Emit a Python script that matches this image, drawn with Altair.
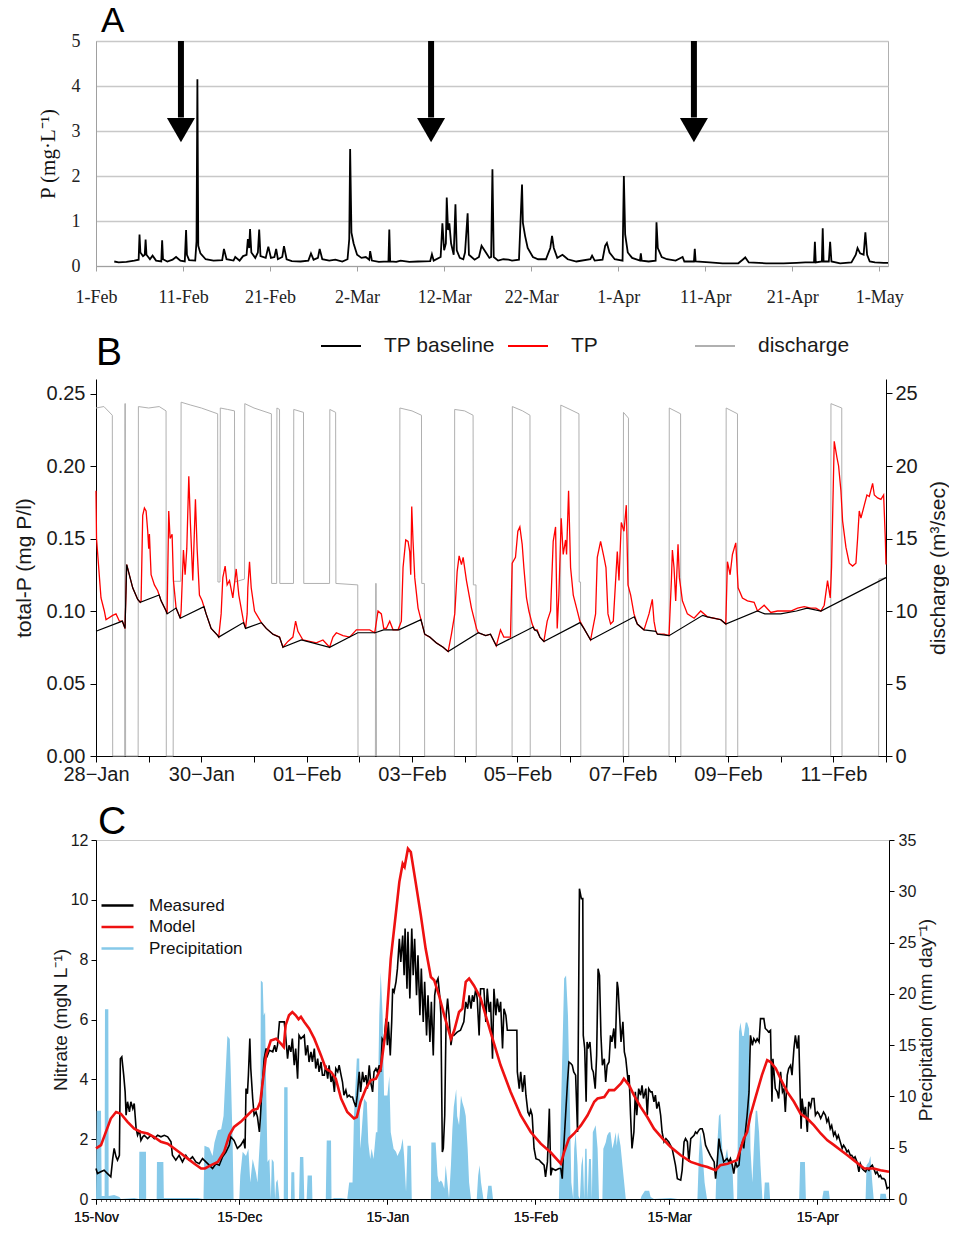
import json
import altair as alt
import pandas as pd

SANS = "Liberation Sans"
SERIF = "Liberation Serif"

# ======================= Panel A : P (mg/L), day 0 = 1-Feb =======================
a_domain = [0, 91]
a_tick_days = [0, 10, 20, 30, 40, 50, 60, 70, 80, 90]
a_tick_labels = ["1-Feb", "11-Feb", "21-Feb", "2-Mar", "12-Mar", "22-Mar", "1-Apr", "11-Apr", "21-Apr", "1-May"]
a_y_ticks = [0, 1, 2, 3, 4, 5]
a_series = [
    (2.1, 0.10), (2.6, 0.08), (3.5, 0.09), (4.4, 0.12), (4.9, 0.14), (5.0, 0.70), (5.1, 0.30), (5.4, 0.22),
    (5.6, 0.25), (5.7, 0.59), (5.8, 0.25), (6.2, 0.15), (6.5, 0.23), (6.9, 0.12), (7.5, 0.10), (7.6, 0.57),
    (7.7, 0.15), (8.2, 0.10), (8.8, 0.14), (9.2, 0.20), (9.7, 0.12), (10.2, 0.10), (10.35, 0.80), (10.45, 0.25),
    (10.7, 0.13), (11.4, 0.12), (11.55, 0.55), (11.65, 4.15), (11.75, 0.45), (12.0, 0.28), (12.6, 0.15),
    (13.5, 0.12), (14.5, 0.13), (14.7, 0.38), (15.0, 0.15), (15.8, 0.12), (16.0, 0.20), (16.5, 0.12),
    (16.9, 0.22), (17.3, 0.25), (17.45, 0.60), (17.6, 0.40), (17.7, 0.82), (17.85, 0.30), (18.3, 0.18),
    (18.6, 0.30), (18.75, 0.81), (18.9, 0.22), (19.5, 0.18), (19.8, 0.43), (20.1, 0.18), (20.5, 0.20),
    (20.7, 0.38), (20.9, 0.15), (21.4, 0.20), (21.6, 0.44), (21.9, 0.15), (22.5, 0.11), (23.5, 0.10),
    (24.4, 0.12), (24.7, 0.28), (25.0, 0.14), (25.5, 0.18), (25.7, 0.38), (26.0, 0.15), (26.8, 0.12),
    (27.5, 0.14), (28.3, 0.10), (28.9, 0.15), (29.1, 0.60), (29.2, 2.60), (29.35, 0.74), (29.6, 0.50),
    (30.0, 0.25), (30.5, 0.18), (31.0, 0.20), (31.4, 0.14), (31.5, 0.33), (31.7, 0.12), (32.5, 0.09),
    (33.6, 0.10), (33.7, 0.81), (33.8, 0.10), (34.5, 0.09), (35.0, 0.12), (36.0, 0.09), (37.0, 0.10),
    (38.4, 0.11), (38.6, 0.26), (38.8, 0.12), (39.6, 0.20), (39.8, 0.95), (40.0, 0.35), (40.2, 0.50),
    (40.3, 1.52), (40.45, 0.80), (40.6, 0.95), (40.8, 0.50), (41.1, 0.25), (41.3, 1.37), (41.45, 0.35),
    (41.8, 0.18), (42.2, 0.15), (42.4, 0.30), (42.7, 1.17), (42.85, 0.25), (43.5, 0.14), (44.0, 0.20),
    (44.3, 0.45), (44.8, 0.30), (45.2, 0.18), (45.4, 0.20), (45.55, 2.15), (45.7, 0.20), (46.2, 0.12),
    (46.8, 0.15), (47.4, 0.14), (47.8, 0.12), (48.6, 0.14), (48.8, 1.10), (48.95, 1.81), (49.05, 0.96),
    (49.3, 0.67), (49.6, 0.40), (50.2, 0.20), (50.8, 0.15), (51.7, 0.15), (52.2, 0.40), (52.4, 0.67),
    (52.6, 0.40), (53.0, 0.18), (53.6, 0.25), (54.2, 0.15), (55.2, 0.10), (56.8, 0.15), (57.0, 0.23),
    (57.3, 0.12), (58.2, 0.14), (58.5, 0.45), (58.7, 0.51), (59.0, 0.30), (59.6, 0.15), (60.5, 0.12),
    (60.65, 2.0), (60.8, 0.70), (61.1, 0.30), (61.6, 0.18), (62.5, 0.12), (62.6, 0.28), (62.7, 0.12),
    (63.5, 0.10), (64.3, 0.12), (64.4, 0.97), (64.55, 0.40), (65.0, 0.20), (65.6, 0.15), (66.6, 0.12),
    (67.4, 0.20), (67.6, 0.10), (68.7, 0.10), (68.8, 0.38), (68.9, 0.10), (70.5, 0.08), (72.0, 0.06),
    (73.8, 0.06), (74.3, 0.14), (74.6, 0.19), (75.0, 0.08), (77.0, 0.06), (79.0, 0.06), (80.5, 0.07),
    (81.5, 0.08), (82.5, 0.08), (82.6, 0.54), (82.7, 0.08), (83.4, 0.10), (83.5, 0.84), (83.6, 0.10),
    (84.2, 0.10), (84.35, 0.54), (84.5, 0.10), (85.5, 0.06), (86.8, 0.08), (87.3, 0.25), (87.5, 0.40),
    (87.8, 0.28), (88.2, 0.25), (88.4, 0.75), (88.6, 0.25), (88.9, 0.10), (89.5, 0.08), (90.5, 0.07),
    (91.0, 0.07),
]
a_arrow_day = [9.76, 38.5, 68.7]
a_arrow_top = [5, 5, 5]
a_arrow_neck = [3.3, 3.3, 3.3]
a_arrow_head = [3.02, 3.02, 3.02]

# ======================= Panel B : t in days since 28-Jan 00:00 =======================
b_domain = [0, 15]
b_tick_days = list(range(16))
b_tick_labels = ["28−Jan", "", "30−Jan", "", "01−Feb", "", "03−Feb", "", "05−Feb", "", "07−Feb", "",
                 "09−Feb", "", "11−Feb", ""]
b_tp_ticks = [0.0, 0.05, 0.10, 0.15, 0.20, 0.25]
b_q_ticks = [0, 5, 10, 15, 20, 25]
b_legend = ["TP baseline", "TP", "discharge"]
b_colors = ["#000000", "#ff0000", "#b0b0b0"]
b_tp = [
    (0.0, 0.183), (0.01, 0.150), (0.095, 0.109), (0.158, 0.100), (0.19, 0.094), (0.317, 0.097), (0.38, 0.098),
    (0.444, 0.093), (0.50, 0.093), (0.551, 0.088), (0.583, 0.132), (0.697, 0.116), (0.792, 0.108), (0.84, 0.106),
    (0.856, 0.107), (0.887, 0.166), (0.919, 0.171), (0.951, 0.169), (0.982, 0.155), (1.001, 0.143),
    (1.014, 0.153), (1.046, 0.125), (1.109, 0.118), (1.172, 0.114), (1.236, 0.107), (1.331, 0.100),
    (1.35, 0.098), (1.381, 0.169), (1.407, 0.150), (1.445, 0.153), (1.47, 0.121), (1.521, 0.102), (1.60, 0.095),
    (1.616, 0.100), (1.66, 0.142), (1.692, 0.125), (1.724, 0.143), (1.762, 0.193), (1.793, 0.160),
    (1.838, 0.121), (1.888, 0.177), (1.92, 0.143), (1.964, 0.111), (2.015, 0.107), (2.091, 0.098),
    (2.186, 0.088), (2.313, 0.083), (2.33, 0.082), (2.376, 0.098), (2.408, 0.123), (2.452, 0.131),
    (2.49, 0.118), (2.535, 0.121), (2.598, 0.109), (2.662, 0.129), (2.712, 0.111), (2.80, 0.093),
    (2.84, 0.088), (2.87, 0.098), (2.883, 0.116), (2.915, 0.134), (2.947, 0.116), (3.01, 0.100),
    (3.14, 0.092), (3.232, 0.088), (3.359, 0.084), (3.485, 0.082), (3.549, 0.075), (3.644, 0.079),
    (3.739, 0.082), (3.79, 0.093), (3.834, 0.086), (3.929, 0.080), (4.056, 0.079), (4.183, 0.078),
    (4.309, 0.080), (4.436, 0.075), (4.499, 0.082), (4.563, 0.085), (4.689, 0.083), (4.816, 0.082),
    (4.943, 0.087), (5.07, 0.087), (5.196, 0.087), (5.292, 0.085), (5.355, 0.100), (5.418, 0.098),
    (5.463, 0.088), (5.513, 0.088), (5.577, 0.093), (5.64, 0.087), (5.735, 0.087), (5.798, 0.093),
    (5.83, 0.130), (5.881, 0.149), (5.925, 0.148), (5.957, 0.141), (5.976, 0.125), (5.995, 0.172),
    (6.02, 0.148), (6.052, 0.123), (6.115, 0.102), (6.17, 0.094), (6.242, 0.084), (6.337, 0.082),
    (6.464, 0.078), (6.591, 0.075), (6.686, 0.072), (6.749, 0.084), (6.812, 0.098), (6.857, 0.127),
    (6.895, 0.138), (6.939, 0.132), (6.971, 0.137), (7.034, 0.121), (7.129, 0.102), (7.224, 0.088),
    (7.26, 0.085), (7.40, 0.083), (7.49, 0.084), (7.60, 0.076), (7.68, 0.087), (7.743, 0.082), (7.87, 0.082),
    (7.902, 0.133), (7.965, 0.137), (8.01, 0.155), (8.048, 0.158), (8.092, 0.146), (8.124, 0.130),
    (8.174, 0.109), (8.219, 0.100), (8.282, 0.091), (8.326, 0.087), (8.377, 0.087), (8.428, 0.082),
    (8.504, 0.079), (8.567, 0.093), (8.631, 0.100), (8.681, 0.148), (8.726, 0.158), (8.757, 0.088),
    (8.789, 0.111), (8.833, 0.164), (8.871, 0.139), (8.916, 0.149), (8.935, 0.139), (8.973, 0.183),
    (9.011, 0.130), (9.062, 0.111), (9.125, 0.102), (9.188, 0.093), (9.264, 0.088), (9.391, 0.080),
    (9.486, 0.098), (9.518, 0.137), (9.581, 0.148), (9.645, 0.137), (9.683, 0.130), (9.721, 0.098),
    (9.771, 0.091), (9.822, 0.093), (9.898, 0.141), (9.93, 0.121), (9.974, 0.161), (10.025, 0.155),
    (10.069, 0.173), (10.101, 0.118), (10.152, 0.111), (10.215, 0.098), (10.278, 0.091), (10.405, 0.087),
    (10.5, 0.098), (10.563, 0.108), (10.595, 0.093), (10.63, 0.086), (10.66, 0.084), (10.785, 0.084),
    (10.88, 0.083), (10.925, 0.121), (10.944, 0.142), (10.975, 0.130), (11.007, 0.107), (11.051, 0.146),
    (11.077, 0.123), (11.134, 0.107), (11.229, 0.098), (11.356, 0.095), (11.482, 0.100), (11.609, 0.096),
    (11.736, 0.095), (11.863, 0.094), (11.958, 0.091), (11.989, 0.134), (12.04, 0.125), (12.084, 0.139),
    (12.148, 0.147), (12.192, 0.116), (12.274, 0.109), (12.37, 0.107), (12.496, 0.106), (12.56, 0.100),
    (12.686, 0.104), (12.813, 0.099), (12.94, 0.100), (13.067, 0.100), (13.193, 0.100), (13.32, 0.102),
    (13.447, 0.103), (13.573, 0.102), (13.669, 0.102), (13.764, 0.100), (13.827, 0.104), (13.89, 0.121),
    (13.941, 0.109), (13.966, 0.130), (14.017, 0.217), (14.068, 0.206), (14.1, 0.200), (14.144, 0.183),
    (14.176, 0.162), (14.239, 0.144), (14.302, 0.133), (14.366, 0.131), (14.429, 0.133), (14.461, 0.150),
    (14.492, 0.169), (14.524, 0.164), (14.588, 0.173), (14.638, 0.180), (14.683, 0.179), (14.746, 0.188),
    (14.778, 0.180), (14.841, 0.178), (14.904, 0.177), (14.955, 0.180), (14.987, 0.150), (15.0, 0.132),
]
b_base = [
    (0.0, 0.086), (0.50, 0.093), (0.551, 0.088), (0.583, 0.132), (0.697, 0.116), (0.792, 0.108), (0.84, 0.106),
    (1.20, 0.111), (1.236, 0.107), (1.331, 0.100), (1.35, 0.098), (1.52, 0.102), (1.60, 0.095), (2.05, 0.103),
    (2.091, 0.098), (2.186, 0.088), (2.313, 0.083), (2.33, 0.082), (2.80, 0.092), (2.84, 0.088), (3.14, 0.092),
    (3.232, 0.088), (3.359, 0.084), (3.485, 0.082), (3.549, 0.075), (3.90, 0.080), (4.436, 0.075),
    (4.97, 0.085), (5.30, 0.085), (5.46, 0.087), (5.75, 0.087), (6.17, 0.094), (6.242, 0.084), (6.337, 0.082),
    (6.464, 0.078), (6.591, 0.075), (6.686, 0.072), (7.26, 0.085), (7.40, 0.083), (7.49, 0.084), (7.60, 0.076),
    (8.30, 0.089), (8.326, 0.087), (8.377, 0.086), (8.428, 0.082), (8.504, 0.079), (9.19, 0.092),
    (9.264, 0.088), (9.391, 0.080), (10.22, 0.096), (10.278, 0.091), (10.405, 0.087), (10.63, 0.086),
    (10.66, 0.084), (10.88, 0.083), (11.52, 0.097), (11.609, 0.096), (11.736, 0.095), (11.863, 0.094),
    (11.958, 0.091), (12.56, 0.100), (12.70, 0.098), (13.0, 0.098), (13.3, 0.100), (13.5, 0.102),
    (13.764, 0.100), (15.0, 0.123),
]
b_q = [
    (0.0, 24.0), (0.15, 24.1), (0.31, 23.5), (0.317, 0), (0.545, 0), (0.548, 24.3), (0.558, 24.3), (0.562, 0),
    (0.80, 0), (0.805, 24.1), (1.0, 24.0), (1.2, 24.1), (1.33, 23.8), (1.335, 0), (1.465, 0), (1.47, 12.05),
    (1.61, 12.05), (1.616, 24.4), (1.8, 24.2), (2.0, 24.0), (2.31, 23.6), (2.315, 12.0), (2.355, 12.0),
    (2.36, 24.0), (2.5, 23.9), (2.63, 23.8), (2.635, 12.0), (2.82, 12.2), (2.825, 24.3), (3.0, 24.0),
    (3.33, 23.6), (3.335, 11.9), (3.43, 11.9), (3.435, 24.0), (3.485, 23.9), (3.49, 11.9), (3.75, 11.9),
    (3.755, 23.9), (3.94, 23.7), (3.945, 11.9), (4.435, 11.9), (4.44, 23.9), (4.55, 23.7), (4.555, 11.9),
    (4.97, 11.8), (4.975, 0), (5.305, 0), (5.31, 11.9), (5.32, 11.9), (5.325, 0), (5.765, 0), (5.77, 24.0),
    (6.0, 23.8), (6.18, 23.5), (6.185, 11.9), (6.235, 11.9), (6.24, 0), (6.805, 0), (6.81, 23.9), (7.0, 23.8),
    (7.16, 23.5), (7.165, 11.8), (7.215, 11.8), (7.22, 0), (7.90, 0), (7.905, 24.1), (8.1, 23.8),
    (8.24, 23.5), (8.245, 0), (8.82, 0), (8.825, 24.2), (9.0, 23.9), (9.17, 23.6), (9.175, 12.0),
    (9.2, 12.0), (9.205, 0), (10.01, 0), (10.015, 23.7), (10.11, 23.3), (10.115, 0), (10.88, 0),
    (10.885, 24.0), (11.1, 23.6), (11.105, 0), (11.96, 0), (11.965, 24.0), (12.18, 23.6), (12.185, 0),
    (13.95, 0), (13.955, 24.3), (14.16, 24.0), (14.165, 0), (14.86, 0), (14.865, 12.2), (15.0, 12.3),
]

# ======================= Panel C : day 0 = 15-Nov =======================
c_domain = [0, 166]
c_tick_days = [0, 30, 61, 92, 120, 151]
c_tick_labels = ["15-Nov", "15-Dec", "15-Jan", "15-Feb", "15-Mar", "15-Apr"]
c_minor_days = list(range(0, 167))
c_n_ticks = [0, 2, 4, 6, 8, 10, 12]
c_p_ticks = [0, 5, 10, 15, 20, 25, 30, 35]
c_legend = ["Measured", "Model", "Precipitation"]
c_colors = ["#000000", "#ee1111", "#86c9e9"]
c_meas = [
    (0, 1.02), (0.3, 0.85), (1.0, 0.91), (1.7, 0.96), (2.4, 0.85), (3.1, 0.74), (3.5, 1.35), (3.8, 1.69),
    (4.2, 1.41), (4.5, 1.30), (4.9, 1.46), (5.1, 4.69), (5.4, 4.75), (5.8, 4.14), (6.1, 3.58), (6.3, 2.80),
    (6.6, 3.25), (7.0, 2.91), (7.3, 3.25), (7.7, 3.02), (8.0, 3.19), (8.4, 2.35), (8.7, 2.13), (9.1, 2.30),
    (9.4, 1.96), (9.8, 2.08), (10.1, 2.13), (10.8, 2.02), (11.5, 2.13), (12.2, 2.02), (12.9, 2.13),
    (13.6, 2.08), (14.3, 2.13), (15.0, 2.08), (15.7, 1.91), (16.0, 1.46), (16.7, 1.30), (17.4, 1.46),
    (18.1, 1.24), (18.8, 1.46), (19.5, 1.30), (20.2, 1.41), (20.9, 1.24), (21.6, 1.18), (22.3, 1.35),
    (23.0, 1.24), (23.7, 1.13), (24.4, 1.02), (25.1, 1.18), (25.8, 1.13), (26.5, 1.41), (27.2, 1.57),
    (27.9, 1.80), (28.2, 2.08), (28.9, 1.96), (29.6, 1.69), (30.3, 1.80), (30.9, 1.96), (31.2, 1.69),
    (31.4, 3.69), (31.7, 3.52), (31.9, 4.14), (32.2, 5.36), (32.4, 4.36), (32.8, 3.36), (33.1, 2.80),
    (33.5, 2.91), (33.8, 2.74), (34.2, 2.24), (34.4, 2.69), (34.7, 3.58), (35.2, 4.69), (35.6, 5.03),
    (35.9, 4.80), (36.3, 4.97), (37.0, 4.92), (37.4, 5.14), (37.7, 4.92), (38.0, 5.14), (38.4, 5.92),
    (39.4, 5.92), (39.7, 5.47), (40.1, 4.69), (40.4, 5.14), (40.8, 4.92), (41.1, 5.36), (41.5, 4.47),
    (41.8, 5.03), (42.2, 4.02), (42.5, 5.47), (42.9, 5.36), (43.6, 5.47), (43.9, 4.80), (44.3, 5.14),
    (44.6, 4.58), (45.0, 4.92), (45.3, 4.58), (45.7, 5.03), (46.0, 4.36), (46.4, 4.69), (46.7, 4.25),
    (47.1, 4.58), (47.4, 4.14), (47.8, 4.14), (48.1, 4.47), (48.5, 4.02), (48.8, 4.47), (49.2, 3.91),
    (49.5, 4.14), (49.9, 3.58), (50.2, 4.36), (50.6, 4.25), (50.9, 4.47), (51.3, 4.14), (51.6, 3.91),
    (51.9, 3.47), (52.3, 3.64), (52.6, 3.41), (53.0, 3.47), (53.3, 3.41), (53.7, 3.41), (54.0, 3.25),
    (54.4, 3.08), (54.7, 3.47), (55.1, 4.25), (55.4, 3.58), (55.8, 4.25), (56.1, 3.91), (56.5, 4.14),
    (56.8, 3.69), (57.2, 4.47), (57.5, 3.91), (57.9, 3.58), (58.2, 4.25), (58.6, 4.36), (58.9, 4.25),
    (59.3, 4.47), (59.6, 4.25), (59.9, 5.36), (60.3, 5.25), (60.7, 6.03), (61.0, 5.14), (61.2, 5.92),
    (61.6, 4.80), (61.9, 5.92), (62.1, 7.03), (62.4, 6.92), (62.8, 7.26), (63.1, 7.70), (63.5, 8.70),
    (63.8, 7.92), (64.2, 8.81), (64.5, 7.48), (64.7, 9.04), (65.1, 7.03), (65.3, 8.93), (65.7, 6.70),
    (66.1, 9.04), (66.4, 7.48), (66.7, 8.70), (67.1, 6.81), (67.4, 8.15), (67.8, 6.14), (68.1, 7.70),
    (68.5, 5.92), (68.8, 7.26), (69.2, 5.47), (69.5, 6.81), (69.9, 5.25), (70.2, 6.59), (70.6, 4.80),
    (70.9, 6.81), (71.3, 7.26), (71.6, 7.37), (72.0, 6.70), (72.2, 6.14), (72.5, 1.57), (72.7, 1.69),
    (73.0, 2.80), (73.3, 6.14), (73.6, 6.70), (73.9, 6.14), (74.3, 5.14), (74.6, 5.47), (74.9, 5.47),
    (75.6, 5.58), (76.3, 5.64), (77.0, 5.92), (77.4, 6.59), (77.8, 6.36), (78.1, 6.81), (78.5, 6.36),
    (78.8, 6.81), (79.1, 6.59), (79.5, 7.03), (79.8, 6.70), (80.2, 5.47), (80.5, 7.03), (81.2, 7.03),
    (81.6, 5.92), (81.9, 7.03), (82.3, 6.25), (82.6, 6.59), (83.0, 4.69), (83.3, 7.03), (83.7, 6.14),
    (84.0, 6.70), (84.4, 6.25), (84.7, 6.59), (85.1, 5.03), (85.4, 6.36), (85.8, 6.14), (86.1, 5.64),
    (88.1, 5.64), (88.2, 4.25), (88.6, 3.69), (88.9, 4.25), (89.3, 3.58), (89.7, 4.14), (90.0, 3.47),
    (90.4, 2.91), (90.7, 2.80), (91.0, 2.97), (91.3, 2.80), (91.7, 1.69), (92.1, 1.35), (92.8, 1.30),
    (93.1, 1.24), (93.8, 1.13), (94.1, 0.74), (94.5, 1.24), (94.9, 3.02), (95.2, 0.79), (95.5, 1.02),
    (96.2, 0.96), (96.9, 1.02), (97.3, 1.02), (97.6, 0.68), (97.9, 1.69), (98.3, 2.80), (98.7, 3.91),
    (99.0, 4.58), (99.4, 4.53), (99.7, 4.47), (100.0, 4.25), (100.4, 4.14), (100.8, 2.24), (101.0, 6.14),
    (101.2, 10.37), (101.6, 10.04), (101.9, 10.04), (102.0, 5.47), (102.3, 5.03), (102.6, 3.25),
    (102.8, 5.25), (103.0, 5.03), (103.4, 5.25), (103.8, 4.36), (104.1, 4.25), (104.5, 3.69), (104.8, 4.80),
    (105.1, 7.70), (105.4, 7.48), (105.7, 5.47), (106.0, 4.47), (106.4, 4.69), (106.7, 3.91), (107.0, 4.47),
    (107.4, 4.58), (107.7, 5.47), (108.0, 5.25), (108.4, 5.70), (108.7, 5.03), (109.1, 7.26), (109.3, 7.03),
    (109.6, 6.14), (109.9, 5.25), (110.3, 5.92), (110.6, 4.92), (110.9, 4.69), (111.4, 3.91), (111.6, 4.14),
    (111.9, 2.80), (112.2, 1.69), (112.6, 2.24), (112.9, 3.58), (113.2, 2.80), (113.6, 3.69), (114.0, 3.47),
    (114.3, 3.80), (114.6, 3.36), (115.1, 3.69), (115.4, 2.80), (115.7, 3.69), (116.1, 3.58), (116.4, 3.58),
    (116.8, 3.25), (117.1, 3.47), (117.4, 3.02), (117.8, 3.25), (118.2, 2.80), (118.5, 2.24), (118.9, 1.91),
    (119.3, 2.02), (119.9, 1.91), (120.6, 1.69), (121.3, 1.13), (121.7, 0.68), (122.4, 0.63), (122.7, 0.96),
    (123.1, 1.91), (123.4, 2.02), (123.8, 1.91), (124.1, 1.24), (124.5, 2.02), (125.2, 2.13), (125.5, 2.24),
    (125.8, 2.19), (126.2, 2.30), (126.5, 2.35), (126.9, 2.35), (127.2, 2.19), (127.6, 1.80), (127.9, 1.69),
    (128.6, 1.46), (129.4, 1.24), (129.7, 0.68), (130.0, 1.13), (130.4, 2.02), (130.7, 1.69), (131.1, 1.46),
    (131.4, 1.24), (132.1, 1.35), (132.5, 1.24), (132.8, 1.35), (133.2, 1.13), (133.5, 0.85), (133.9, 1.24),
    (134.2, 1.07), (134.6, 1.13), (134.9, 1.69), (135.3, 1.91), (135.6, 1.69), (136.0, 2.35), (136.3, 2.80),
    (136.7, 3.58), (137.0, 5.47), (137.4, 5.14), (137.7, 5.36), (138.1, 5.25), (138.4, 5.36), (138.8, 5.25),
    (139.1, 6.03), (139.8, 6.03), (140.1, 5.70), (140.5, 5.64), (140.8, 5.58), (141.2, 5.64), (141.5, 3.25),
    (141.7, 4.69), (142.2, 3.69), (142.6, 3.58), (142.9, 3.36), (143.3, 4.25), (143.7, 3.58), (144.0, 3.69),
    (144.3, 2.91), (144.7, 4.14), (145.0, 4.36), (145.4, 4.47), (145.7, 4.14), (146.1, 5.03), (146.4, 5.47),
    (146.8, 5.03), (147.1, 5.47), (147.5, 2.91), (147.6, 2.35), (147.8, 3.36), (148.2, 2.80), (148.5, 3.08),
    (148.9, 2.24), (149.2, 3.25), (149.6, 3.08), (149.9, 3.36), (150.3, 3.36), (150.6, 2.80), (151.0, 2.91),
    (151.3, 2.85), (151.7, 2.69), (152.0, 2.80), (152.3, 2.91), (152.7, 2.80), (153.0, 2.58), (153.3, 2.69),
    (153.7, 2.35), (154.0, 2.46), (154.4, 2.13), (154.7, 2.24), (155.1, 2.02), (155.4, 2.13), (155.8, 1.91),
    (156.2, 1.69), (156.5, 1.80), (156.9, 1.69), (157.2, 1.57), (157.5, 1.63), (157.9, 1.46), (158.2, 1.46),
    (158.6, 1.35), (158.9, 1.41), (159.3, 1.24), (159.7, 0.91), (160.0, 1.18), (160.4, 1.02), (160.7, 0.96),
    (161.1, 0.91), (161.4, 1.02), (161.8, 0.96), (162.1, 1.07), (162.5, 1.13), (162.8, 1.02), (163.2, 0.85),
    (163.5, 0.91), (163.9, 0.74), (164.2, 0.79), (164.5, 0.68), (164.9, 0.68), (165.2, 0.63), (165.6, 0.35),
    (166.0, 0.40),
]
c_model = [
    (0, 1.69), (1.05, 1.80), (3.1, 2.69), (4.2, 2.91), (5.2, 2.85), (6.6, 2.58), (8.0, 2.35), (9.4, 2.24),
    (10.8, 2.19), (12.2, 2.07), (13.6, 1.91), (15.0, 1.85), (16.4, 1.69), (17.8, 1.52), (19.2, 1.35),
    (20.6, 1.18), (22.0, 1.02), (22.8, 1.02), (24.1, 1.13), (25.5, 1.24), (26.8, 1.57), (27.9, 2.13),
    (28.9, 2.41), (30.3, 2.58), (31.7, 2.80), (32.8, 2.97), (33.8, 3.02), (34.4, 3.25), (34.9, 3.91),
    (35.6, 4.80), (36.6, 5.30), (37.7, 5.36), (38.7, 5.19), (39.3, 5.08), (39.7, 5.81), (40.4, 6.14),
    (41.1, 6.25), (41.8, 6.14), (42.4, 6.01), (42.9, 6.09), (43.6, 5.92), (44.6, 5.70), (45.7, 5.36),
    (47.1, 4.80), (48.1, 4.36), (49.2, 4.25), (50.2, 4.02), (51.3, 3.36), (52.6, 2.91), (54.0, 2.69),
    (54.6, 2.74), (55.4, 3.25), (56.5, 3.69), (57.5, 3.97), (58.6, 4.02), (59.6, 4.36), (60.7, 5.70),
    (61.7, 8.03), (62.8, 9.59), (63.5, 10.6), (64.2, 11.21), (64.6, 11.1), (65.3, 11.71), (65.9, 11.6),
    (66.9, 10.6), (68.0, 9.48), (69.0, 8.37), (70.1, 7.42), (70.8, 7.31), (71.8, 6.81), (72.9, 6.14),
    (74.3, 5.36), (75.0, 5.64), (76.0, 6.25), (76.7, 6.36), (77.4, 7.26), (78.1, 7.37), (79.1, 7.14),
    (80.5, 6.72), (82.6, 5.58), (84.7, 4.47), (86.8, 3.58), (88.9, 2.80), (91.0, 2.24), (93.1, 1.85),
    (95.1, 1.57), (97.3, 1.18), (98.0, 1.57), (99.0, 2.02), (100.1, 2.19), (101.5, 2.46), (102.9, 2.80),
    (104.3, 3.25), (105.0, 3.36), (106.4, 3.41), (107.4, 3.64), (108.5, 3.64), (109.9, 3.86), (110.5, 4.02),
    (111.6, 3.80), (112.6, 3.47), (114.0, 3.08), (115.4, 2.74), (116.8, 2.35), (118.6, 2.02), (120.3, 1.74),
    (122.4, 1.46), (124.5, 1.24), (126.6, 1.13), (128.0, 1.07), (129.7, 0.96), (130.7, 1.13), (132.2, 1.18),
    (134.2, 1.30), (135.6, 2.02), (136.3, 2.24), (137.0, 2.80), (138.0, 3.36), (139.4, 4.14), (140.5, 4.64),
    (141.2, 4.58), (142.3, 4.36), (143.3, 4.02), (144.7, 3.58), (146.1, 3.25), (147.5, 2.85), (148.9, 2.69),
    (150.3, 2.46), (151.7, 2.19), (153.1, 1.96), (154.5, 1.80), (155.9, 1.63), (157.3, 1.46), (158.6, 1.30),
    (160.8, 1.02), (161.4, 1.02), (162.8, 1.02), (164.2, 0.96), (166.0, 0.91),
]
c_prec = [
    (0, 0), (0.14, 8.6), (1.05, 8.6), (1.19, 0.3), (1.8, 0.3), (1.88, 18.5), (2.58, 18.5), (2.65, 0.3),
    (3.8, 0.4), (4.9, 0.2), (5.2, 0), (8, 0.1), (9.0, 0), (9.07, 4.6), (10.46, 4.6), (10.5, 0), (12.7, 0),
    (12.76, 3.6), (14.1, 3.6), (14.2, 0.1), (15.7, 0.1), (17.1, 0.1), (18.8, 0.1), (21.3, 0.1), (22.5, 0),
    (22.7, 5.2), (23.7, 5.0), (24.4, 4.2), (24.8, 5.5), (25.5, 6.7), (26.2, 6.8), (26.7, 8.1), (27.2, 13.0),
    (27.5, 15.9), (28.0, 15.6), (28.2, 12.7), (28.6, 5.5), (28.8, 0), (30.0, 0), (30.2, 2.3), (30.7, 4.6),
    (31.4, 4.2), (31.9, 4.9), (32.3, 1.6), (32.8, 3.9), (33.1, 3.3), (33.5, 2.5), (33.8, 1.6), (34.4, 6.5),
    (34.5, 21.3), (34.9, 21.1), (35.1, 17.9), (35.4, 18.2), (35.6, 11.4), (35.9, 3.6), (36.3, 3.9),
    (36.6, 0), (36.8, 3.9), (37.2, 3.6), (37.5, 0), (37.7, 1.6), (38.0, 1.9), (38.4, 0), (39.3, 0),
    (39.4, 10.9), (40.1, 10.9), (40.2, 0), (40.8, 0), (40.9, 2.6), (41.5, 2.6), (41.6, 0), (42.5, 0),
    (42.7, 4.1), (43.4, 4.1), (43.6, 0), (44.1, 0), (44.3, 2.3), (45.2, 2.3), (45.3, 0), (48.1, 0),
    (48.3, 5.7), (49.2, 5.7), (49.3, 0), (49.9, 0.1), (51.3, 0.1), (52.6, 0), (53.0, 1.6), (53.7, 1.6),
    (54.0, 8.1), (54.6, 13.7), (55.1, 13.7), (55.3, 4.9), (55.6, 6.5), (56.1, 9.8), (56.7, 9.4), (57.0, 5.5),
    (57.4, 3.9), (57.7, 4.9), (58.1, 3.9), (58.6, 6.5), (58.9, 6.5), (59.3, 17.9), (59.6, 22.1), (60.0, 17.9),
    (60.3, 10.1), (61.0, 10.1), (61.4, 12.0), (61.7, 6.5), (62.3, 4.9), (62.8, 4.6), (63.1, 4.2), (63.8, 4.9),
    (64.2, 5.9), (64.5, 4.2), (64.9, 0.7), (65.2, 5.2), (65.9, 5.2), (66.1, 0), (70.1, 0), (70.2, 5.5),
    (71.1, 5.5), (71.5, 2.3), (71.8, 1.6), (72.2, 1.8), (72.5, 1.6), (72.9, 1.0), (73.2, 3.3), (73.9, 0),
    (74.3, 3.3), (74.6, 6.8), (74.9, 9.0), (75.4, 10.7), (75.6, 8.1), (76.0, 7.2), (76.4, 10.1), (76.7, 9.4),
    (77.1, 8.8), (77.4, 8.1), (77.8, 4.9), (78.1, 1.6), (78.5, 0), (79.7, 0), (80.0, 2.3), (80.3, 3.3),
    (80.6, 1.6), (81.1, 0), (81.8, 0), (82.1, 1.3), (82.8, 1.3), (83.1, 0), (96.9, 0), (97.3, 8.1),
    (98.0, 21.5), (98.4, 21.8), (98.8, 17.9), (99.1, 11.4), (99.5, 1.6), (99.9, 0), (100.1, 4.9),
    (100.4, 6.5), (100.8, 3.3), (101.0, 0.3), (101.3, 0), (101.6, 3.3), (101.9, 4.2), (102.2, 0),
    (102.4, 4.9), (102.7, 4.9), (102.9, 0), (103.2, 3.9), (103.6, 3.9), (103.8, 0), (104.0, 6.5),
    (104.6, 7.2), (105.0, 4.9), (105.3, 0), (106.0, 0), (106.2, 4.9), (106.7, 5.5), (107.0, 6.2),
    (107.4, 6.5), (107.7, 6.5), (108.1, 4.9), (108.4, 5.5), (108.8, 6.5), (109.0, 5.2), (109.3, 6.5),
    (109.8, 5.2), (110.2, 3.3), (110.5, 1.9), (110.9, 0), (114.0, 0), (114.2, 0.3), (114.9, 0.8),
    (115.8, 0.8), (116.1, 0.2), (116.8, 0), (120.3, 0.1), (121.7, 0), (125.9, 0), (126.2, 4.2),
    (126.5, 6.5), (126.9, 4.9), (127.4, 1.6), (127.9, 0), (129.7, 0), (130.0, 4.9), (130.4, 8.1),
    (130.7, 8.3), (131.1, 4.9), (131.4, 3.3), (131.8, 4.2), (132.1, 4.9), (132.5, 3.3), (132.8, 4.2),
    (133.2, 3.3), (133.5, 0), (134.2, 0), (134.6, 16.3), (134.9, 17.2), (135.3, 15.9), (135.6, 15.9),
    (136.0, 17.2), (136.3, 17.2), (136.7, 16.6), (137.0, 4.9), (137.4, 1.6), (137.7, 4.9), (138.1, 8.6),
    (138.4, 8.6), (138.8, 6.5), (139.1, 3.3), (139.5, 0), (139.8, 0), (140.0, 1.6), (140.9, 1.6), (141.1, 0),
    (147.2, 0), (147.4, 3.6), (148.4, 3.6), (148.6, 0), (152.0, 0), (152.3, 0.8), (153.4, 0.8), (153.6, 0),
    (161.1, 0), (161.3, 3.3), (161.8, 3.6), (162.1, 4.2), (162.5, 1.6), (162.8, 0), (164.1, 0), (164.2, 0.5),
    (165.3, 0.5), (165.5, 0), (166.0, 0),
]


def label_expr(values, labels):
    return "%s[indexof(%s, datum.value)]" % (json.dumps(labels, ensure_ascii=False), json.dumps(values))


# ------------------------------------------------------------------ Panel A
dfA = pd.DataFrame(a_series, columns=["day", "p"])
dfArrow = pd.DataFrame({"day": a_arrow_day, "top": a_arrow_top, "neck": a_arrow_neck, "head": a_arrow_head})
xA_scale = alt.Scale(domain=a_domain, nice=False, zero=False)
yA_scale = alt.Scale(domain=[0, 5], nice=False, zero=True)
xA_axis = alt.Axis(
    values=a_tick_days, labelExpr=label_expr(a_tick_days, a_tick_labels), title=None, grid=False,
    labelFont=SERIF, labelFontSize=18, labelColor="#222222", tickColor="#a0a0a0", tickSize=5,
    domainColor="#a0a0a0", labelPadding=17, labelFlush=False, labelOverlap=False)
yA_axis = alt.Axis(
    values=a_y_ticks, format="d", title="P (mg·L⁻¹)", grid=True, gridColor="#c8c8c8", gridWidth=1.3,
    domainColor="#a0a0a0", tickSize=0, labelFont=SERIF, labelFontSize=18, labelColor="#222222",
    labelPadding=16, titleFont=SERIF, titleFontSize=21, titleFontWeight="normal", titleColor="#111111",
    titlePadding=13)

lineA = alt.Chart(dfA).mark_line(color="black", strokeWidth=1.8).encode(
    x=alt.X("day:Q", scale=xA_scale, axis=xA_axis),
    y=alt.Y("p:Q", scale=yA_scale, axis=yA_axis),
)
shaftA = alt.Chart(dfArrow).mark_rule(color="black", strokeWidth=6).encode(
    x=alt.X("day:Q", scale=xA_scale, axis=xA_axis),
    y=alt.Y("top:Q", scale=yA_scale, axis=yA_axis), y2="neck:Q")
headA = alt.Chart(dfArrow).mark_point(shape="triangle-down", size=784, filled=True, color="black", opacity=1).encode(
    x=alt.X("day:Q", scale=xA_scale, axis=xA_axis),
    y=alt.Y("head:Q", scale=yA_scale, axis=yA_axis))

A = alt.layer(lineA, shaftA, headA).properties(
    width=792, height=225,
    title=alt.TitleParams("A", anchor="start", frame="group", fontSize=35, font=SANS, fontWeight="normal",
                          offset=-7, dx=5, color="black"),
    view=alt.ViewBackground(stroke="#b0b0b0", strokeWidth=1),
)

# ------------------------------------------------------------------ Panel B
dfTP = pd.DataFrame(b_tp, columns=["t", "v"]).assign(series="TP")
dfBase = pd.DataFrame(b_base, columns=["t", "v"]).assign(series="TP baseline")
dfQ = pd.DataFrame(b_q, columns=["t", "q"]).assign(series="discharge")

xB_scale = alt.Scale(domain=b_domain, nice=False, zero=False)
xB_axis = alt.Axis(
    values=b_tick_days, labelExpr=label_expr(b_tick_days, b_tick_labels), title=None, grid=False,
    labelFont=SANS, labelFontSize=20, labelColor="#1a1a1a", tickColor="black", tickSize=6,
    domainColor="black", labelPadding=2, labelFlush=False, labelOverlap=False)
legB = alt.Legend(title=None, orient="none", legendX=224, legendY=-54, direction="horizontal", columns=3,
                  symbolType="stroke", symbolSize=1600, symbolStrokeWidth=2, labelFont=SANS, labelFontSize=21,
                  labelColor="#1a1a1a", labelOffset=22, columnPadding=9, gridAlign="all", padding=0)
colorB = alt.Color("series:N", scale=alt.Scale(domain=b_legend, range=b_colors), legend=legB)
tpB_axis = alt.Axis(
    orient="left", values=b_tp_ticks, format=".2f", title="total-P (mg P/l)", grid=False,
    labelFont=SANS, labelFontSize=20, labelColor="#1a1a1a", tickColor="black", tickSize=6,
    domainColor="black", labelPadding=5, titleFont=SANS, titleFontSize=21, titleFontWeight="normal",
    titleColor="#1a1a1a", titlePadding=12)

qB = alt.Chart(dfQ).mark_line(strokeWidth=1).encode(
    x=alt.X("t:Q", scale=xB_scale, axis=xB_axis),
    y=alt.Y("q:Q", scale=alt.Scale(domain=[0, 26], nice=False), axis=alt.Axis(
        orient="right", values=b_q_ticks, title="discharge (m³/sec)", titleAngle=270, grid=False,
        labelFont=SANS, labelFontSize=20, labelColor="#1a1a1a", tickColor="black", tickSize=6,
        domainColor="black", labelPadding=3, titleFont=SANS, titleFontSize=21, titleFontWeight="normal",
        titleColor="#1a1a1a", titlePadding=31)),
    color=colorB,
)
tpB = alt.Chart(dfTP).mark_line(strokeWidth=1.3).encode(
    x=alt.X("t:Q", scale=xB_scale, axis=xB_axis),
    y=alt.Y("v:Q", scale=alt.Scale(domain=[0, 0.26], nice=False), axis=tpB_axis),
    color=colorB,
)
baseB = alt.Chart(dfBase).mark_line(strokeWidth=1.2).encode(
    x=alt.X("t:Q", scale=xB_scale, axis=xB_axis),
    y=alt.Y("v:Q", scale=alt.Scale(domain=[0, 0.26], nice=False), axis=None),
    color=colorB,
)
B = alt.layer(qB, tpB, baseB).resolve_scale(y="independent").properties(
    width=790, height=377,
    title=alt.TitleParams("B", anchor="start", frame="group", fontSize=39, font=SANS, fontWeight="normal",
                          offset=-48, color="black"),
    view=alt.ViewBackground(stroke="transparent"),
)

# ------------------------------------------------------------------ Panel C
dfM = pd.DataFrame(c_meas, columns=["d", "n"]).assign(series="Measured")
dfMod = pd.DataFrame(c_model, columns=["d", "n"]).assign(series="Model")
dfP = pd.DataFrame(c_prec, columns=["d", "mm"])

xC_scale = alt.Scale(domain=c_domain, nice=False, zero=False)
yC_scale = alt.Scale(domain=[0, 12], nice=False)
xC_major = alt.Axis(
    orient="bottom", values=c_tick_days, labelExpr=label_expr(c_tick_days, c_tick_labels), title=None,
    grid=False, labelFont=SANS, labelFontSize=14, labelColor="#1a1a1a", tickColor="black", tickSize=5,
    domainColor="black", labelPadding=6, labelFlush=False, labelOverlap=False)
xC_minor = alt.Axis(
    orient="bottom", values=c_minor_days, labels=False, title=None, grid=False, domain=False,
    tickColor="#333333", tickSize=2.5, tickWidth=0.8)
# wide, flat custom symbol: 32 px long line while the entry keeps a small (16 px) nominal size
legC = alt.Legend(title=None, orient="none", legendX=12, legendY=56, direction="vertical",
                  symbolType="M-2,0L2,0", symbolSize=256, symbolStrokeWidth=2.5, labelFont=SANS,
                  labelFontSize=17, labelColor="#111111", labelOffset=22, rowPadding=3.5, padding=0)
colorC = alt.Color("series:N", scale=alt.Scale(domain=c_legend, range=c_colors), legend=legC)

precC = alt.Chart(dfP).mark_area(color=c_colors[2], opacity=1, interpolate="linear").encode(
    x=alt.X("d:Q", scale=xC_scale, axis=xC_minor),
    y=alt.Y("mm:Q", scale=alt.Scale(domain=[0, 35], nice=False), axis=alt.Axis(
        orient="right", values=c_p_ticks, title="Precipitation (mm day⁻¹)", titleAngle=270, grid=False,
        labelFont=SANS, labelFontSize=16, labelColor="#1a1a1a", tickColor="black", tickSize=5,
        domainColor="black", labelPadding=4, titleFont=SANS, titleFontSize=19, titleFontWeight="normal",
        titleColor="#1a1a1a", titlePadding=20)),
)
measC = alt.Chart(dfM).mark_line(strokeWidth=1.6).encode(
    x=alt.X("d:Q", scale=xC_scale, axis=xC_major),
    y=alt.Y("n:Q", scale=yC_scale, axis=alt.Axis(
        orient="left", values=c_n_ticks, title="Nitrate (mgN L⁻¹)", grid=False,
        labelFont=SANS, labelFontSize=16, labelColor="#1a1a1a", tickColor="black", tickSize=5,
        domainColor="black", labelPadding=3, titleFont=SANS, titleFontSize=19, titleFontWeight="normal",
        titleColor="#1a1a1a", titlePadding=0)),
    color=colorC,
)
modelC = alt.Chart(dfMod).mark_line(strokeWidth=2.6).encode(
    x=alt.X("d:Q", scale=xC_scale, axis=xC_major),
    y=alt.Y("n:Q", scale=yC_scale, axis=None),
    color=colorC,
)
C = alt.layer(precC, measC, modelC).resolve_scale(y="independent").resolve_axis(x="independent").properties(
    width=793, height=359,
    title=alt.TitleParams("C", anchor="start", frame="group", fontSize=39, font=SANS, fontWeight="normal",
                          offset=-10, dx=2, color="black"),
    view=alt.ViewBackground(stroke="#c8c8c8", strokeWidth=1),
)

chart = alt.vconcat(A, B, C, spacing=17).resolve_scale(color="independent").resolve_legend(
    color="independent").properties(
    padding={"left": 4, "top": -5, "right": 0, "bottom": 0}
).configure(font=SANS)

chart.save("out.html", embed_options={"renderer": "svg", "actions": False})
